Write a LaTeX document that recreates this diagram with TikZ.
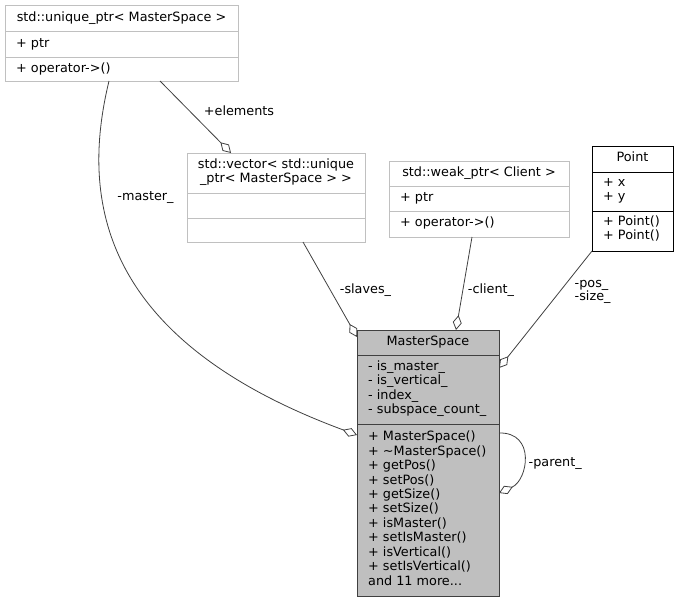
\documentclass[tikz,border=0pt]{standalone}
\usepackage{fontspec}
\setmainfont{DejaVu Sans}
\usetikzlibrary{arrows.meta}
\definecolor{litegray}{HTML}{C0C0C0}
\definecolor{edgegray}{HTML}{404040}
\definecolor{msfill}{HTML}{BFBFBF}
\tikzset{
  cls/.style={draw=litegray, fill=white, rectangle, anchor=north west, inner sep=0pt, outer sep=0pt, line width=0.9pt},
  txt/.style={inner sep=0pt, text height=9.3pt, text depth=3pt},
  mem/.style={txt, anchor=west},
  assoc/.style={draw=edgegray, line width=0.8pt, -{Diamond[open, length=15pt, width=9pt, line width=0.8pt]}},
}
\begin{document}
\begin{tikzpicture}[x=1pt,y=-1pt,font=\fontsize{12.8}{14.6}\selectfont]
        \useasboundingbox (0,0) rectangle (678,603);
        \def\L{11}
        % std::unique_ptr< MasterSpace >
        \node[cls, minimum width=233pt, minimum height=76pt] (uptr) at (5,5) {};
        \draw[litegray, line width=0.9pt] (5,31) -- (238,31) (5,57) -- (238,57);
        \node[txt] (uptrT) at (121.5,18) {std::unique\_ptr< MasterSpace >};
        \node[mem] (uptrA) at ({5+\L},44) {+ ptr};
        \node[mem] (uptrM) at ({5+\L},69) {+ operator->()};
        % std::vector< std::unique_ptr< MasterSpace > >
        \node[cls, minimum width=178pt, minimum height=89pt] (vec) at (187,153) {};
        \draw[litegray, line width=0.9pt] (187,193) -- (365,193) (187,218) -- (365,218);
        \node[txt] (vecT1) at (276,165) {std::vector< std::unique};
        \node[txt] (vecT2) at (276,179.5) {\_ptr< MasterSpace > >};
        % std::weak_ptr< Client >
        \node[cls, minimum width=180pt, minimum height=76pt] (wptr) at (389,161) {};
        \draw[litegray, line width=0.9pt] (389,186) -- (569,186) (389,211) -- (569,211);
        \node[txt] (wptrT) at (479,173.5) {std::weak\_ptr< Client >};
        \node[mem] (wptrA) at ({389+\L},198.5) {+ ptr};
        \node[mem] (wptrM) at ({389+\L},223.5) {+ operator->()};
        % Point
        \node[cls, draw=black, minimum width=81pt, minimum height=105pt] (pt) at (592,146) {};
        \draw[black, line width=0.9pt] (592,172) -- (673,172) (592,211) -- (673,211);
        \node[txt] (ptT) at (632.5,158.5) {Point};
        \foreach\s [count=\i from 0] in {+ x,+ y}{
            \node[mem] (ptA\i) at ({592+\L},{183+14*\i}) {\s};
        }
        \foreach\i in {0,1}{
            \node[mem] (ptM\i) at ({592+\L},{222+14.5*\i}) {+ Point()};
        }
        % MasterSpace
        \node[cls, draw=edgegray, fill=msfill, minimum width=142pt, minimum height=266pt] (ms) at (357,330) {};
        \draw[edgegray, line width=0.9pt] (357,355) -- (499,355) (357,424) -- (499,424);
        \node[txt] (msT) at (428,342) {MasterSpace};
        \foreach\s [count=\i from 0] in {- is\_master\_,- is\_vertical\_,- index\_,- subspace\_count\_}{
            \node[mem] (msA\i) at ({357+\L},{367+14.6*\i}) {\s};
        }
        \foreach\s [count=\i from 0] in {+ MasterSpace(),+ \textasciitilde MasterSpace(),+ getPos(),+ setPos(),+ getSize(),+ setSize(),+ isMaster(),+ setIsMaster(),+ isVertical(),+ setIsVertical()}{
            \node[mem] (msM\i) at ({357+\L},{437.5+14.45*\i}) {\s};
        }
        \node[mem] (msMore) at ({357+\L},582) {and 11 more...};
        % associations
        \draw[assoc] ([xshift=155pt]uptr.south west) -- ([xshift=44pt]vec.north west);
        \node[txt] (elemL) at (239,112.5) {+elements};
        \draw[assoc] ([xshift=104pt]uptr.south west) .. controls (80,200) and (100,340) .. ([yshift=-105pt]ms.north west);
        \node[txt] (masterL) at (145.5,197.5) {-master\_};
        \draw[assoc] ([xshift=116pt]vec.south west) -- ([yshift=-7pt]ms.north west);
        \node[txt] (slavesL) at (365.5,290) {-slaves\_};
        \draw[assoc] ([xshift=83pt]wptr.south west) -- ([xshift=99pt]ms.north west);
        \node[txt] (clientL) at (491,290) {-client\_};
        \draw[assoc] (pt.south west) -- ([yshift=-38pt]ms.north east);
        \node[mem] (posL) at (574.5,284) {-pos\_};
        \node[mem] (sizeL) at (574.5,297) {-size\_};
        \draw[assoc] ([yshift=-103pt]ms.north east) .. controls (536,432) and (528,480) .. ([yshift=-163pt]ms.north east);
        \node[mem] (parentL) at (528.5,463) {-parent\_};
\end{tikzpicture}
\end{document}
